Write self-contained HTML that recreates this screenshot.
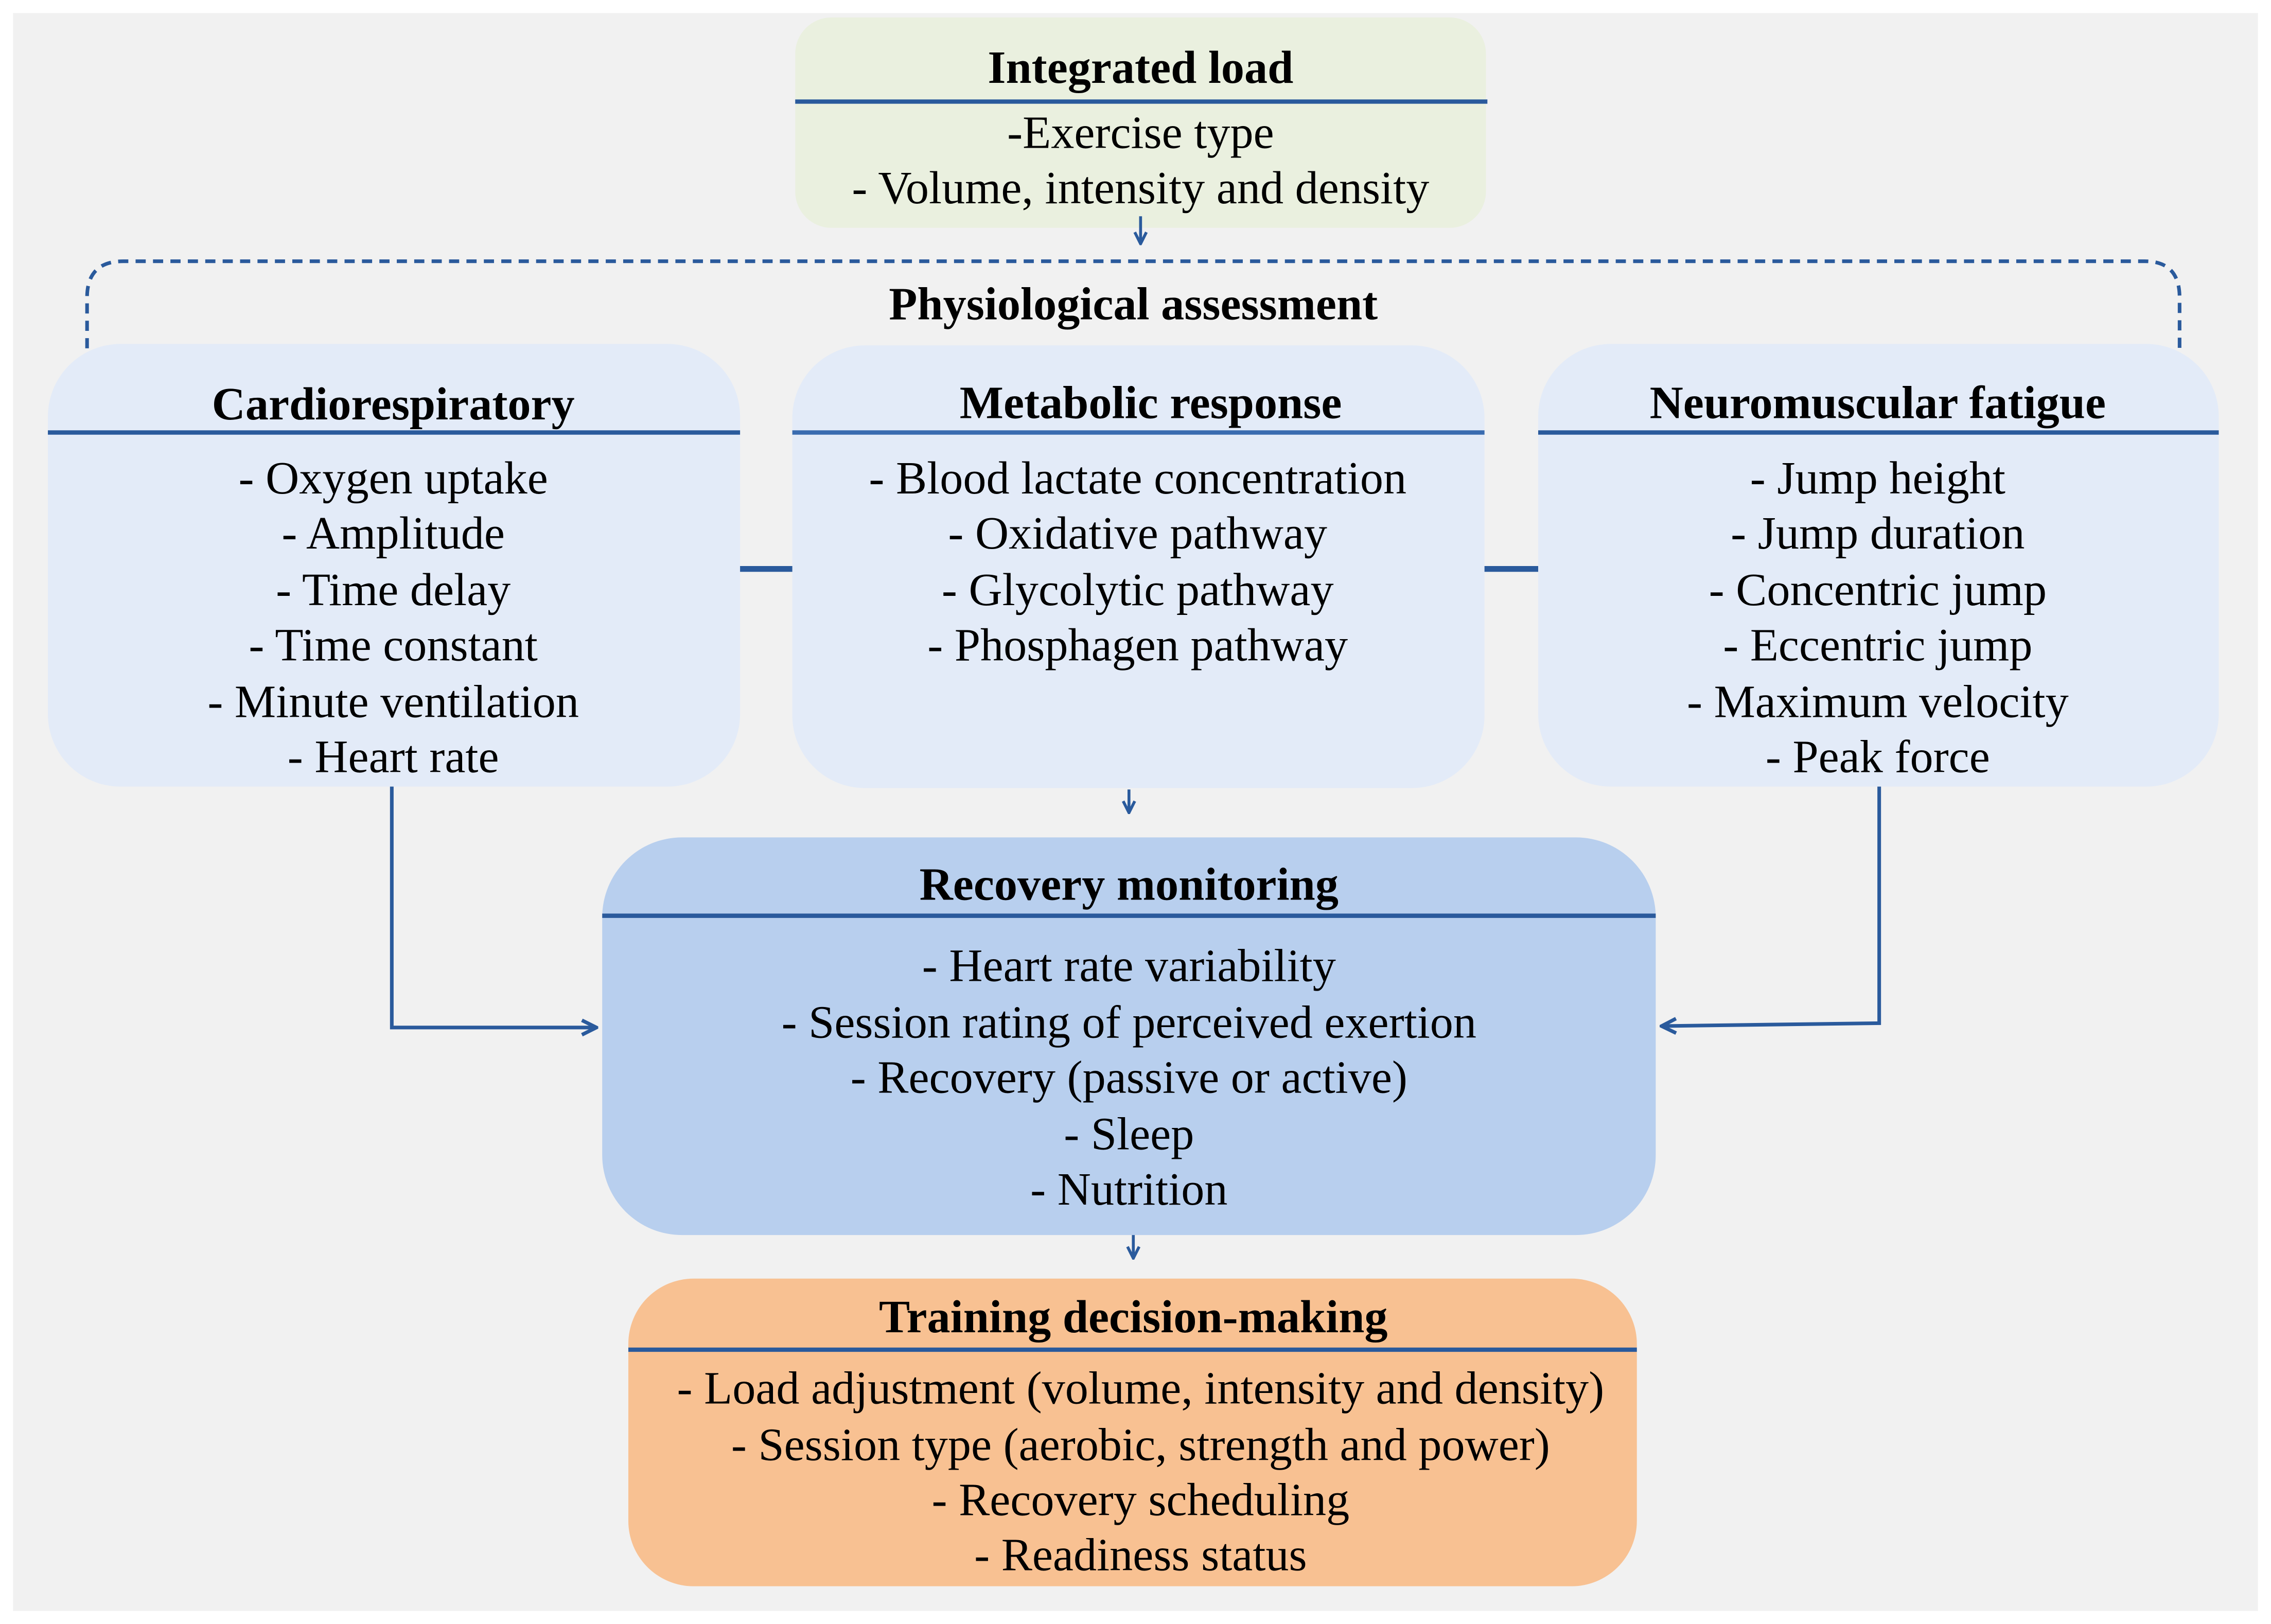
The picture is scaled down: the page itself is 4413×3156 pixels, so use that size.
<!DOCTYPE html>
<html><head><meta charset="utf-8"><style>
html,body{margin:0;padding:0;background:#fff;width:4413px;height:3156px;overflow:hidden}
svg{display:block}
text{font-family:"Liberation Serif",serif;font-size:32px;fill:#000;text-anchor:middle}
.b{font-weight:bold}
</style></head><body>
<svg width="4413" height="3156" viewBox="0 0 1565 1119" preserveAspectRatio="none" xmlns="http://www.w3.org/2000/svg">
<defs><marker id="a" viewBox="0 0 10 10" refX="9" refY="5" markerWidth="5" markerHeight="5" orient="auto"><path d="M1,1 L9,5 L1,9" fill="none" stroke="#2a5a9c" stroke-width="2"/></marker></defs>
<rect x="0" y="0" width="1565" height="1119" fill="#fff"/>
<rect x="9" y="9" width="1547" height="1101" fill="#f1f1f1"/>
<rect x="548" y="12" width="476" height="145" rx="25" fill="#eaf0df"/>
<text class="b" x="786" y="57">Integrated load</text>
<line x1="548" y1="70" x2="1025" y2="70" stroke="#2a5a9c" stroke-width="3"/>
<text x="786" y="102">-Exercise type</text>
<text x="786" y="140">- Volume, intensity and density</text>
<line x1="786" y1="149" x2="786" y2="168" stroke="#2a5a9c" stroke-width="2" marker-end="url(#a)"/>
<path d="M60,240 L60,205 Q60,180 85,180 L1478,180 Q1502,180 1502,205 L1502,240" fill="none" stroke="#2a5a9c" stroke-width="2.5" stroke-dasharray="7,5"/>
<text class="b" x="781" y="220">Physiological assessment</text>
<rect x="33" y="237" width="477" height="305" rx="50" fill="#e3ebf8"/>
<rect x="546" y="238" width="477" height="305" rx="50" fill="#e3ebf8"/>
<rect x="1060" y="237" width="469" height="305" rx="50" fill="#e3ebf8"/>
<line x1="33" y1="298" x2="510" y2="298" stroke="#2a5a9c" stroke-width="3"/>
<line x1="546" y1="298" x2="1023" y2="298" stroke="#3a6cb0" stroke-width="3"/>
<line x1="1060" y1="298" x2="1529" y2="298" stroke="#2a5a9c" stroke-width="3"/>
<text class="b" x="271" y="289">Cardiorespiratory</text>
<text class="b" x="793" y="288">Metabolic response</text>
<text class="b" x="1294" y="288">Neuromuscular fatigue</text>
<g>
<text x="271" y="340">- Oxygen uptake</text>
<text x="271" y="378">- Amplitude</text>
<text x="271" y="417">- Time delay</text>
<text x="271" y="455">- Time constant</text>
<text x="271" y="494">- Minute ventilation</text>
<text x="271" y="532">- Heart rate</text>
<text x="784" y="340">- Blood lactate concentration</text>
<text x="784" y="378">- Oxidative pathway</text>
<text x="784" y="417">- Glycolytic pathway</text>
<text x="784" y="455">- Phosphagen pathway</text>
<text x="1294" y="340">- Jump height</text>
<text x="1294" y="378">- Jump duration</text>
<text x="1294" y="417">- Concentric jump</text>
<text x="1294" y="455">- Eccentric jump</text>
<text x="1294" y="494">- Maximum velocity</text>
<text x="1294" y="532">- Peak force</text>
</g>
<line x1="510" y1="392" x2="546" y2="392" stroke="#2a5a9c" stroke-width="4"/>
<line x1="1023" y1="392" x2="1060" y2="392" stroke="#2a5a9c" stroke-width="4"/>
<line x1="778" y1="544" x2="778" y2="560" stroke="#2a5a9c" stroke-width="2" marker-end="url(#a)"/>
<rect x="415" y="577" width="726" height="274" rx="55" fill="#b8cfee"/>
<line x1="415" y1="631" x2="1141" y2="631" stroke="#2a5a9c" stroke-width="3"/>
<text class="b" x="778" y="620">Recovery monitoring</text>
<text x="778" y="676">- Heart rate variability</text>
<text x="778" y="715">- Session rating of perceived exertion</text>
<text x="778" y="753">- Recovery (passive or active)</text>
<text x="778" y="792">- Sleep</text>
<text x="778" y="830">- Nutrition</text>
<polyline points="270,542 270,708 411,708" fill="none" stroke="#2a5a9c" stroke-width="2.5" marker-end="url(#a)"/>
<polyline points="1295,542 1295,705 1145,707" fill="none" stroke="#2a5a9c" stroke-width="2.5" marker-end="url(#a)"/>
<line x1="781" y1="851" x2="781" y2="867" stroke="#2a5a9c" stroke-width="2" marker-end="url(#a)"/>
<rect x="433" y="881" width="695" height="212" rx="45" fill="#f8c192"/>
<line x1="433" y1="930" x2="1128" y2="930" stroke="#2a5a9c" stroke-width="3"/>
<text class="b" x="781" y="918">Training decision-making</text>
<text x="786" y="967">- Load adjustment (volume, intensity and density)</text>
<text x="786" y="1006">- Session type (aerobic, strength and power)</text>
<text x="786" y="1044">- Recovery scheduling</text>
<text x="786" y="1082">- Readiness status</text>
</svg>
</body></html>
